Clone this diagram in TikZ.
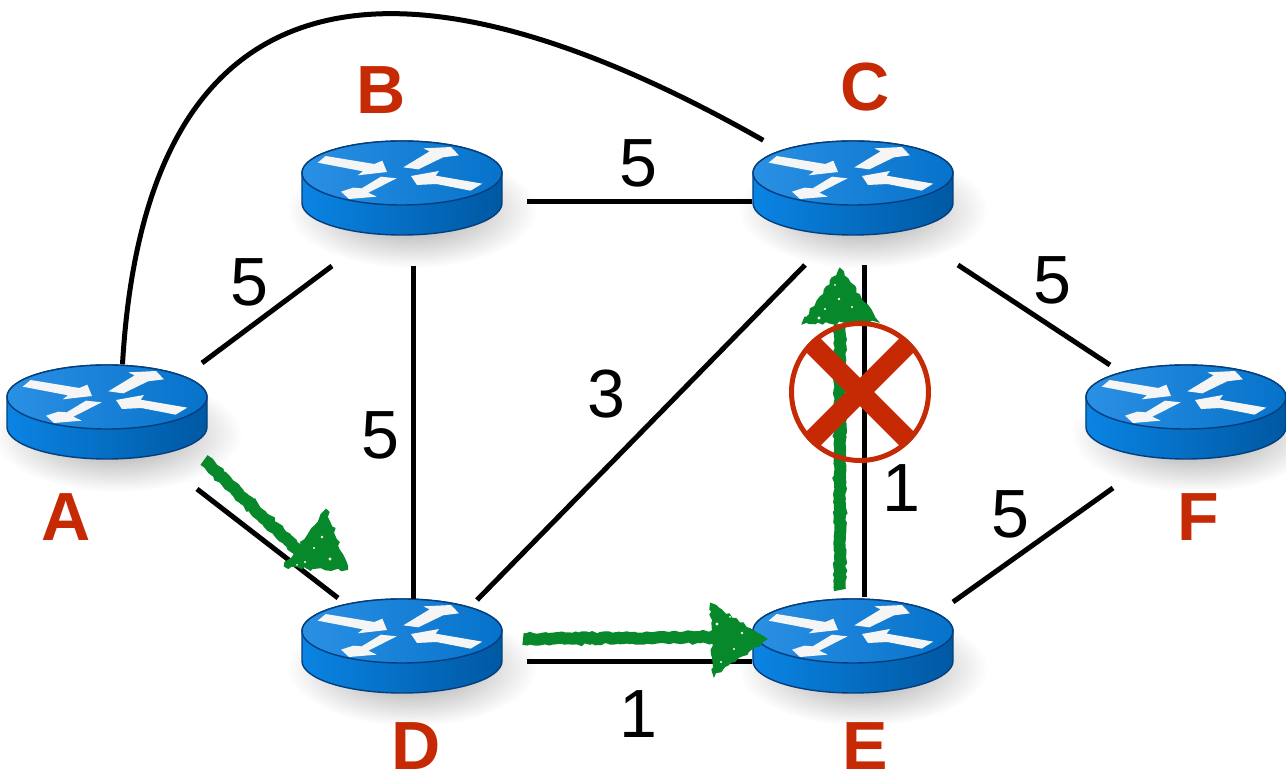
\documentclass[tikz,border=0pt]{standalone}
\usepackage{fontspec}
\setmainfont{Liberation Sans}
\usepackage{tikz}
\usetikzlibrary{decorations.pathmorphing}

\definecolor{routertop}{HTML}{0672CA}
\definecolor{routerlight}{HTML}{2A90E4}
\definecolor{routerside}{HTML}{0A84E4}
\definecolor{routerdark}{HTML}{0058A2}
\definecolor{routerline}{HTML}{043E7C}
\definecolor{markgreen}{HTML}{06882B}
\definecolor{markred}{HTML}{C62A05}

\tikzset{
  routerbox/.style={minimum width=2cm, minimum height=0.94cm, inner sep=0pt},
  routerimg/.pic={
    \shade[inner color=black!40, outer color=white] (0.1,-0.22) ellipse[x radius=1.25, y radius=0.58];
    \shadedraw[left color=routerside, right color=routerdark, draw=routerline, line width=0.4pt]
      (-1,0.15) -- (-1,-0.15) arc[start angle=180, end angle=360, x radius=1, y radius=0.32]
      -- (1,0.15) arc[start angle=0, end angle=180, x radius=1, y radius=0.32];
    \shadedraw[left color=routerlight, right color=routertop, draw=routerline, line width=0.4pt]
      (0,0.15) ellipse[x radius=1, y radius=0.32];
    \fill[black!4, x=0.01cm/3, y=-0.01cm/3, shift={(-321,-186)}]
      (68,110) -- (92,90) -- (238,114) -- (262,104) -- (276,138) -- (188,148) -- (204,136) -- cycle
      (325,124) -- (404,76) -- (385,67) -- (468,63) -- (492,88) -- (444,94) -- (370,130) -- cycle
      (305,157) -- (258,152) -- (200,187) -- (175,185) -- (138,197) -- (162,219) -- (245,212) -- (220,200) -- cycle
      (348,150) -- (432,135) -- (422,149) -- (562,173) -- (527,194) -- (424,174) -- (366,177) -- cycle;
  },
  link/.style={line width=0.05cm},
  routername/.style={text=markred, font=\fontsize{19.4}{22}\selectfont\bfseries, inner sep=0pt},
  cost/.style={text=black, font=\fontsize{19.4}{22}\selectfont, inner sep=0pt},
  greenshaft/.style={draw=markgreen, line width=0.12cm, decorate,
    decoration={random steps, segment length=0.9pt, amplitude=0.3pt}},
  greenhead/.style={fill=markgreen, draw=markgreen, line width=0.6pt, decorate,
    decoration={random steps, segment length=1.2pt, amplitude=0.5pt}},
  fleck/.style={fill=white},
}

\begin{document}
\begin{tikzpicture}

\useasboundingbox (0,0) rectangle (12.86,7.79);

% routers
\node[routerbox] (A) at (1.07,3.67) {};
\pic at (A.center) {routerimg};
\node[routerbox] (B) at (4.02,5.91) {};
\pic at (B.center) {routerimg};
\node[routerbox] (C) at (8.53,5.91) {};
\pic at (C.center) {routerimg};
\node[routerbox] (D) at (4.02,1.33) {};
\pic at (D.center) {routerimg};
\node[routerbox] (E) at (8.53,1.33) {};
\pic at (E.center) {routerimg};
\node[routerbox] (F) at (11.86,3.67) {};
\pic at (F.center) {routerimg};

% links
\draw[link] (A.72) .. controls (1.50,8.89) and (4.90,7.94) .. (C.152);
\draw[link] ([shift={(0.95,0.49)}]A.center) -- ([shift={(-0.70,-0.78)}]B.center);
\draw[link] ([shift={(0.90,-0.77)}]A.center) -- ([shift={(-0.64,0.48)}]D.center);
\draw[link] ([shift={(1.25,-0.14)}]B.center) -- ([shift={(-1.01,-0.14)}]C.center);
\draw[link] ([shift={(0.11,-0.78)}]B.center) -- ([shift={(0.11,0.47)}]D.center);
\draw[link] ([shift={(0.75,0.46)}]D.center) -- ([shift={(-0.48,-0.77)}]C.center);
\draw[link] ([shift={(1.25,-0.16)}]D.center) -- ([shift={(-1.01,-0.16)}]E.center);
\draw[link] ([shift={(0.12,-0.77)}]C.center) -- ([shift={(0.12,0.49)}]E.center);
\draw[link] ([shift={(1.05,-0.77)}]C.center) -- ([shift={(-0.76,0.47)}]F.center);
\draw[link] ([shift={(1.00,0.44)}]E.center) -- ([shift={(-0.73,-0.76)}]F.center);

% green path
\draw[greenshaft] ([shift={(0.97,-0.48)}]A.center) -- ([shift={(-0.88,0.80)}]D.center);
\fill[greenhead] (3.26,2.69) -- (3.47,2.10) -- (2.85,2.13) -- cycle;
\fill[fleck] (3.22,2.42) circle[radius=0.014] (3.05,2.17) circle[radius=0.012] (3.30,2.20) circle[radius=0.016]
  (3.14,2.31) circle[radius=0.012] (2.97,2.14) circle[radius=0.01];
\draw[greenshaft] ([shift={(1.21,0.07)}]D.center) -- ([shift={(-1.33,0.09)}]E.center);
\fill[greenhead] (7.11,1.75) -- (7.66,1.40) -- (7.14,1.04) -- cycle;
\fill[fleck] (7.17,1.55) circle[radius=0.016] (7.34,1.30) circle[radius=0.012] (7.42,1.46) circle[radius=0.014]
  (7.21,1.17) circle[radius=0.012] (7.30,1.62) circle[radius=0.01];
\draw[greenshaft] ([shift={(-0.13,0.56)}]E.center) -- ([shift={(-0.13,-1.37)}]C.center);
\fill[greenhead] (8.40,5.10) -- (8.77,4.58) -- (8.03,4.56) -- cycle;
\fill[fleck] (8.39,4.80) circle[radius=0.014] (8.25,4.70) circle[radius=0.012] (8.19,4.61) circle[radius=0.016]
  (8.52,4.72) circle[radius=0.012] (8.35,4.94) circle[radius=0.01];

% broken link
\node[circle, draw=markred, line width=0.05cm, minimum size=1.37cm, inner sep=0pt] (broken) at (8.60,3.87) {};
\begin{scope}
  \clip (broken.center) circle[radius=0.69];
  \draw[markred, line width=0.2cm] ([shift={(-0.6,0.6)}]broken.center) -- ([shift={(0.6,-0.6)}]broken.center);
  \draw[markred, line width=0.2cm] ([shift={(-0.6,-0.6)}]broken.center) -- ([shift={(0.6,0.6)}]broken.center);
\end{scope}

% router names
\node[routername] (nameA) at (0.66,2.62) {A};
\node[routername] (nameB) at (3.81,6.89) {B};
\node[routername] (nameC) at (8.65,6.92) {C};
\node[routername] (nameD) at (4.16,0.33) {D};
\node[routername] (nameE) at (8.65,0.33) {E};
\node[routername] (nameF) at (11.98,2.62) {F};

% link costs
\node[cost] (costAB) at (2.49,4.97) {5};
\node[cost] (costBC) at (6.38,6.16) {5};
\node[cost] (costBD) at (3.80,3.44) {5};
\node[cost] (costDC) at (6.06,3.85) {3};
\node[cost] (costCF) at (10.52,4.99) {5};
\node[cost] (costCE) at (9.01,2.91) {1};
\node[cost] (costEF) at (10.10,2.65) {5};
\node[cost] (costDE) at (6.38,0.65) {1};

\end{tikzpicture}
\end{document}
